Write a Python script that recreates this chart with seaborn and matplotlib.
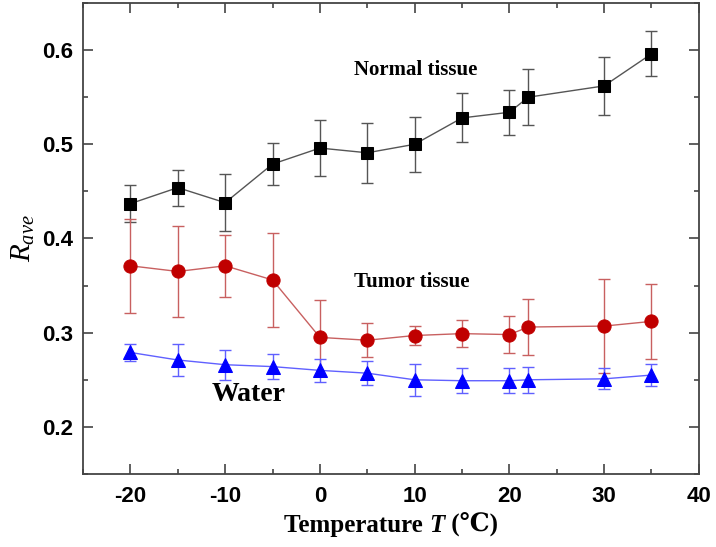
import numpy as np
import pandas as pd
import matplotlib
matplotlib.use("Agg")
import matplotlib.pyplot as plt
import seaborn as sns
from matplotlib.ticker import MultipleLocator
from matplotlib.offsetbox import TextArea, HPacker, AnchoredOffsetbox

# Temperatures (degC)
temperature = [-20, -15, -10, -5, 0, 5, 10, 15, 20, 22, 30, 35]

# R_ave for each sample with error
normal_mean = [0.437, 0.454, 0.438, 0.479, 0.496, 0.491, 0.500, 0.528, 0.534, 0.550, 0.562, 0.596]
normal_err = [0.020, 0.019, 0.030, 0.022, 0.030, 0.032, 0.029, 0.026, 0.024, 0.030, 0.031, 0.024]

tumor_mean = [0.371, 0.365, 0.371, 0.356, 0.295, 0.292, 0.297, 0.299, 0.298, 0.306, 0.307, 0.312]
tumor_err = [0.050, 0.048, 0.033, 0.050, 0.040, 0.018, 0.010, 0.014, 0.020, 0.030, 0.050, 0.040]

water_mean = [0.279, 0.271, 0.266, 0.264, 0.260, 0.257, 0.250, 0.249, 0.249, 0.250, 0.251, 0.255]
water_err = [0.009, 0.017, 0.016, 0.013, 0.012, 0.013, 0.017, 0.013, 0.013, 0.014, 0.011, 0.012]

sns.set_style("ticks")
plt.rcParams["font.family"] = ["Liberation Sans", "DejaVu Sans"]
plt.rcParams["axes.unicode_minus"] = False
plt.rcParams["mathtext.fontset"] = "custom"
plt.rcParams["mathtext.it"] = "Liberation Serif:italic"
plt.rcParams["mathtext.rm"] = "Liberation Serif"
plt.rcParams["text.color"] = "black"
plt.rcParams["axes.labelcolor"] = "black"

fig = plt.figure(figsize=(7.16, 5.47), dpi=100)
ax = fig.add_axes([0.116, 0.1335, 0.860, 0.861])

series = [
    (normal_mean, normal_err, "#000000", "#555555", "s", 9),
    (tumor_mean, tumor_err, "#c00000", "#c86060", "o", 9.5),
    (water_mean, water_err, "#0000ff", "#6060ff", "^", 9.5),
]

for means, errs, mcolor, lcolor, marker, msize in series:
    df = pd.DataFrame({"T": temperature, "R": means})
    ax.errorbar(temperature, means, yerr=errs, fmt="none", ecolor=lcolor,
                elinewidth=1, capsize=4, capthick=1, zorder=2)
    sns.lineplot(data=df, x="T", y="R", ax=ax, color=lcolor, linewidth=1,
                 marker=marker, markersize=msize, markerfacecolor=mcolor,
                 markeredgecolor=mcolor, zorder=3)

ax.set_xlim(-25, 40)
ax.set_ylim(0.15, 0.65)
ax.xaxis.set_minor_locator(MultipleLocator(5))
ax.yaxis.set_minor_locator(MultipleLocator(0.05))
ax.set_xticks([-20, -10, 0, 10, 20, 30, 40])
ax.set_yticks([0.2, 0.3, 0.4, 0.5, 0.6])
ax.tick_params(which="both", direction="in", top=True, right=True, color="#444444",
               labelcolor="black")
ax.tick_params(which="major", length=7, width=1.2, labelsize=16)
ax.tick_params(axis="x", which="major", pad=9)
ax.tick_params(axis="y", which="major", pad=7)
ax.tick_params(which="minor", length=3.5, width=1.2)
for lab in ax.get_xticklabels() + ax.get_yticklabels():
    lab.set_fontweight("bold")
for sp in ax.spines.values():
    sp.set_linewidth(1.3)
    sp.set_color("#444444")

serif = ["Liberation Serif", "DejaVu Serif"]
ax.set_xlabel("")
ax.set_ylabel("$R_{ave}$", fontsize=21, labelpad=4)

# x label with an italic T
xlabel_parts = HPacker(children=[
    TextArea("Temperature ", textprops=dict(fontsize=18, fontweight="bold", family=serif, color="black")),
    TextArea("T", textprops=dict(fontsize=18, fontweight="bold", style="italic", family=serif, color="black")),
    TextArea(" (\u2103)", textprops=dict(fontsize=18, fontweight="bold", family=serif, color="black")),
], pad=0, sep=0, align="baseline")
fig.add_artist(AnchoredOffsetbox(loc="center", child=xlabel_parts, pad=0, frameon=False,
                                 bbox_to_anchor=(391 / 716, 0.04),
                                 bbox_transform=fig.transFigure))

ax.text(3.6, 0.579, "Normal tissue", fontsize=15, fontweight="bold", family=serif, ha="left", va="center")
ax.text(3.6, 0.3535, "Tumor tissue", fontsize=15, fontweight="bold", family=serif, ha="left", va="center")
ax.text(-11.4, 0.234, "Water", fontsize=20, fontweight="bold", family=serif, ha="left", va="center")

fig.savefig("out.png", dpi=100)
